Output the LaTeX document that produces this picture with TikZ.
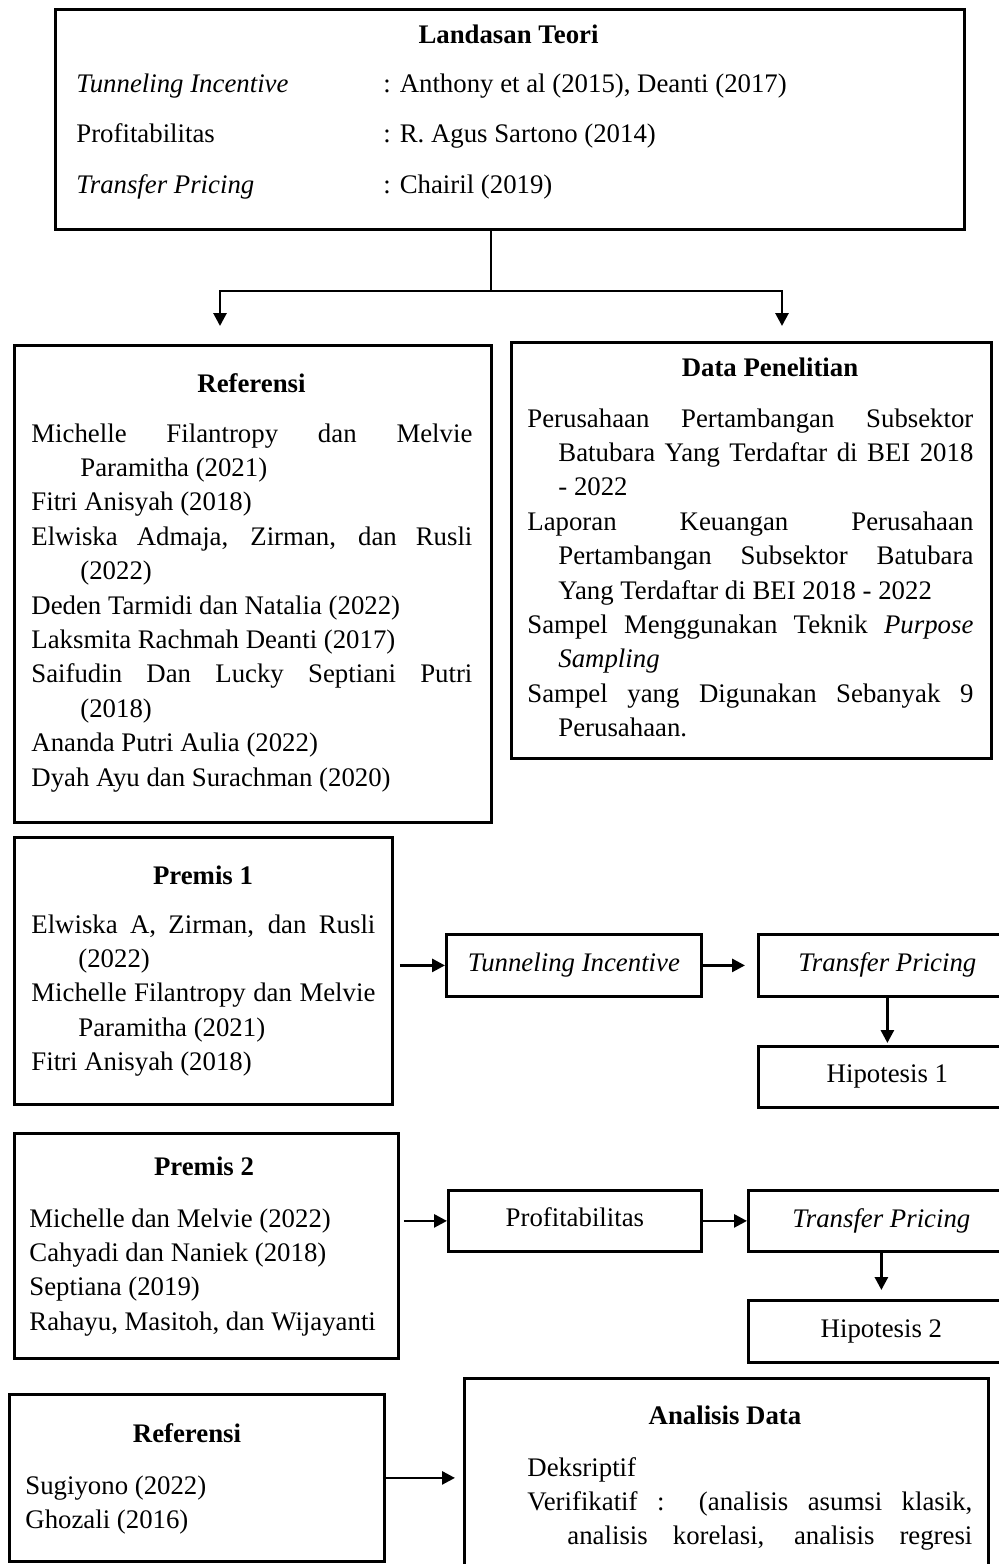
\documentclass[tikz,border=0pt]{standalone}
\usepackage{fontspec}
\setmainfont{Liberation Serif}
\usetikzlibrary{arrows.meta}

\hyphenpenalty=10000
\tolerance=10000
\newcommand{\ukuran}{\fontsize{13.4pt}{17.2pt}\selectfont}
\newlength{\gantung}
\newcommand{\butir}[1]{\hangindent=\gantung\hangafter=1 #1\par}

\begin{document}
\begin{tikzpicture}[x=0.5pt, y=-0.5pt, font=\ukuran,
  kotak/.style={draw, line width=1.4pt, inner sep=0pt, anchor=north west},
  judul/.style={font=\ukuran\bfseries, inner sep=0pt, anchor=base},
  baris/.style={inner sep=0pt, anchor=base west},
  isi/.style={inner sep=0pt, anchor=base west, align=justify},
  panah/.style={line width=1.4pt, -{Triangle[length=6.5pt,width=6.5pt]}}]

  \useasboundingbox (0,0) rectangle (998,1564);

  % landasan teori
  \node[kotak, minimum width=454.5pt, minimum height=110pt] (teori) at (54,8) {};
  \node[judul] (teoriJ) at (508.5,43) {Landasan Teori};
  \node[baris] (t1a) at (76,92) {\textit{Tunneling Incentive}};
  \node[baris] (t1b) at (383,92) {: Anthony et al (2015), Deanti (2017)};
  \node[baris] (t2a) at (76,142) {Profitabilitas};
  \node[baris] (t2b) at (383,142) {: R. Agus Sartono (2014)};
  \node[baris] (t3a) at (76,193) {\textit{Transfer Pricing}};
  \node[baris] (t3b) at (383,193) {: Chairil (2019)};

  \coordinate (cabang) at (491,291);
  \coordinate (kiri) at (220,326);
  \coordinate (kanan) at (782,326);
  \draw[line width=1.4pt] (teori.south -| cabang) -- (cabang);
  \draw[panah] (cabang) -| (kiri);
  \draw[panah] (cabang) -| (kanan);

  % referensi
  \node[kotak, minimum width=238.5pt, minimum height=238.5pt] (ref1) at (13,344) {};
  \node[judul] (ref1J) at (251.5,392) {Referensi};
  \node[isi, text width=220.5pt] (ref1I) at (31,442) {\setlength{\gantung}{24.5pt}%
    \butir{Michelle Filantropy dan Melvie\linebreak Paramitha (2021)}
    \butir{Fitri Anisyah (2018)}
    \butir{Elwiska Admaja, Zirman, dan Rusli\linebreak (2022)}
    \butir{Deden Tarmidi dan Natalia (2022)}
    \butir{Laksmita Rachmah Deanti (2017)}
    \butir{Saifudin Dan Lucky Septiani Putri\linebreak (2018)}
    \butir{Ananda Putri Aulia (2022)}
    \butir{Dyah Ayu dan Surachman (2020)}};

  % data penelitian
  \node[kotak, minimum width=240pt, minimum height=208pt] (data) at (510,341) {};
  \node[judul] (dataJ) at (770,376) {Data Penelitian};
  \node[isi, text width=223pt] (dataI) at (527,427) {\setlength{\gantung}{15.5pt}%
    \butir{Perusahaan Pertambangan Subsektor\linebreak Batubara Yang Terdaftar di BEI 2018\linebreak - 2022}
    \butir{Laporan Keuangan Perusahaan\linebreak Pertambangan Subsektor Batubara\linebreak Yang Terdaftar di BEI 2018 - 2022}
    \butir{Sampel Menggunakan Teknik \textit{Purpose}\linebreak \textit{Sampling}}
    \butir{Sampel yang Digunakan Sebanyak 9\linebreak Perusahaan.}};

  % premis 1
  \node[kotak, minimum width=189pt, minimum height=133.5pt] (premis1) at (13,836) {};
  \node[judul] (premis1J) at (203,884) {Premis 1};
  \node[isi, text width=172pt] (premis1I) at (31,933) {\setlength{\gantung}{23.5pt}%
    \butir{Elwiska A, Zirman, dan Rusli\linebreak (2022)}
    \butir{Michelle Filantropy dan Melvie\linebreak Paramitha (2021)}
    \butir{Fitri Anisyah (2018)}};

  \node[kotak, minimum width=127.5pt, minimum height=31pt, font=\ukuran\itshape] (tunnel) at (445,933) {Tunneling Incentive};
  \node[kotak, minimum width=129pt, minimum height=31pt, font=\ukuran\itshape] (tp1) at (757,933) {Transfer Pricing};
  \node[kotak, minimum width=129pt, minimum height=30.5pt] (hip1) at (757,1045) {Hipotesis 1};

  \draw[panah, shorten <=3pt] (premis1.east |- tunnel) -- (tunnel);
  \draw[panah, shorten >=6pt] (tunnel) -- (tp1);
  \draw[panah, shorten >=1pt] (tp1) -- (hip1);

  % premis 2
  \node[kotak, minimum width=192pt, minimum height=112.5pt] (premis2) at (13,1132) {};
  \node[judul] (premis2J) at (204,1175) {Premis 2};
  \node[isi, text width=184pt] (premis2I) at (29,1227) {\setlength{\gantung}{0pt}%
    \butir{Michelle dan Melvie (2022)}
    \butir{Cahyadi dan Naniek (2018)}
    \butir{Septiana (2019)}
    \butir{Rahayu, Masitoh, dan Wijayanti}};

  \node[kotak, minimum width=126.5pt, minimum height=30.5pt, text depth=4pt] (profit) at (447,1189) {Profitabilitas};
  \node[kotak, minimum width=133pt, minimum height=30.5pt, font=\ukuran\itshape] (tp2) at (747,1189) {Transfer Pricing};
  \node[kotak, minimum width=133pt, minimum height=31pt] (hip2) at (747,1299) {Hipotesis 2};

  \draw[panah, shorten <=2pt] (premis2.east |- profit) -- (profit);
  \draw[panah] (profit) -- (tp2);
  \draw[panah, shorten >=4.5pt] (tp2) -- (hip2);

  % referensi dan analisis data
  \node[kotak, minimum width=187.5pt, minimum height=83.5pt] (ref2) at (8,1393) {};
  \node[judul] (ref2J) at (187,1442) {Referensi};
  \node[isi, text width=170pt] (ref2I) at (25,1494) {Sugiyono (2022)\par Ghozali (2016)\par};

  \node[kotak, minimum width=262pt, minimum height=120pt] (analisis) at (463,1377) {};
  \node[judul] (analisisJ) at (725,1424) {Analisis Data};
  \node[isi, text width=222.5pt] (analisisI) at (527,1476) {\setlength{\gantung}{20pt}%
    \butir{Deksriptif}
    \butir{\parfillskip=0pt Verifikatif : (analisis asumsi klasik,\linebreak analisis korelasi, analisis regresi}};

  \draw[panah, shorten >=4pt] (ref2) -- (ref2 -| analisis.west);
\end{tikzpicture}
\end{document}
